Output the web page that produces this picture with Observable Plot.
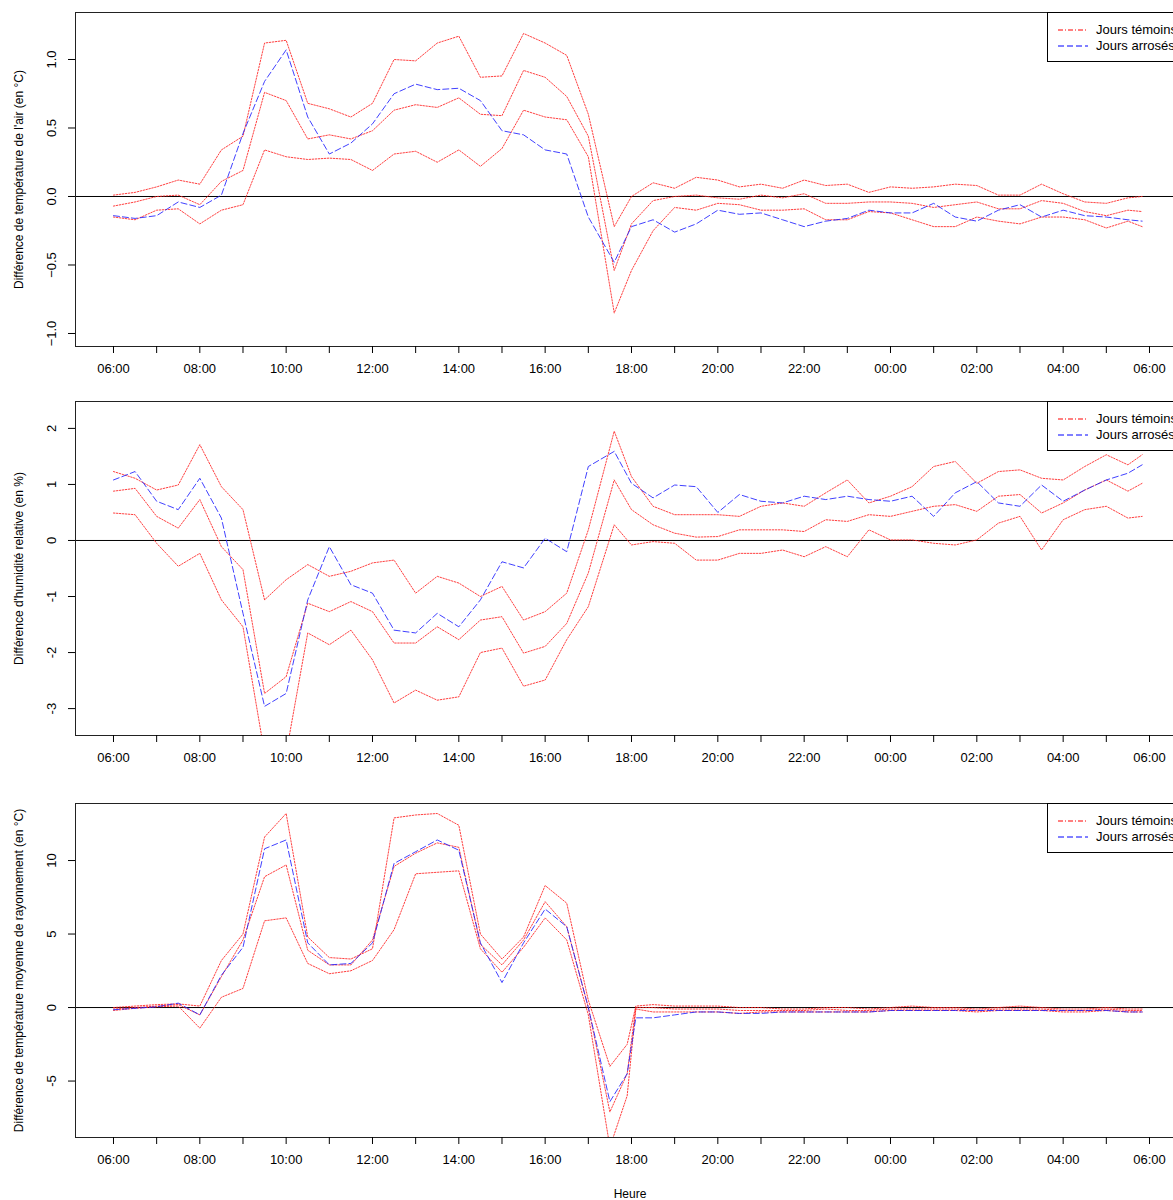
<!DOCTYPE html>
<html><head><meta charset="utf-8">
<script src="https://cdn.jsdelivr.net/npm/d3@7"></script>
<script src="https://cdn.jsdelivr.net/npm/@observablehq/plot@0.6"></script>
<style>
body{margin:0;background:#fff;font-family:"Liberation Sans",Arial,sans-serif;}
#wrap{position:relative;width:1173px;height:1200px;overflow:hidden;}
#wrap svg{display:block;max-width:none !important;}
.leg{position:absolute;left:1047px;width:200px;height:48px;border:1px solid #000;background:#fff;font-size:13px;}
.leg div{position:absolute;left:48px;}
.heure{position:absolute;top:1187px;left:600px;width:60px;text-align:center;font-size:12px;}
</style></head>
<body><div id="wrap"></div>
<script>
// time positions (hours since 00:00 of day 1)
const T12 = [...d3.range(6, 17.01, 0.5), 17.6, ...d3.range(18, 29.51, 0.5), 29.83];
const T3 = [...d3.range(6, 17.51, 0.5), 17.9, 18.1, ...d3.range(18.5, 29.51, 0.5), 29.83];

// Panel 1 : air temperature difference
const U1 = [0.01,0.03,0.07,0.12,0.09,0.34,0.44,1.12,1.14,0.68,0.64,0.58,0.68,1.0,0.99,1.12,1.17,0.87,0.88,1.19,1.12,1.03,0.6, -0.22,
 0.0,0.1,0.06,0.14,0.12,0.07,0.09,0.06,0.12,0.08,0.09,0.03,0.07,0.06,0.07,0.09,0.08,0.01,0.01,0.09,0.02,-0.04,-0.05,-0.01, 0.0];
const M1 = [-0.07,-0.04,0.0,0.01,-0.06,0.11,0.19,0.76,0.7,0.42,0.45,0.42,0.48,0.63,0.67,0.65,0.72,0.6,0.59,0.92,0.87,0.73,0.44, -0.54,
 -0.2,-0.03,0.0,0.01,-0.01,-0.02,0.01,-0.01,0.02,-0.05,-0.05,-0.04,-0.04,-0.05,-0.08,-0.06,-0.04,-0.09,-0.09,-0.03,-0.05,-0.11,-0.14,-0.1, -0.11];
const L1 = [-0.15,-0.17,-0.1,-0.09,-0.2,-0.1,-0.06,0.34,0.29,0.27,0.28,0.27,0.19,0.31,0.33,0.25,0.34,0.22,0.35,0.63,0.58,0.56,0.29, -0.85,
 -0.54,-0.25,-0.08,-0.1,-0.05,-0.06,-0.1,-0.1,-0.09,-0.17,-0.17,-0.11,-0.12,-0.17,-0.22,-0.22,-0.15,-0.18,-0.2,-0.15,-0.15,-0.17,-0.23,-0.18, -0.22];
const B1 = [-0.14,-0.16,-0.14,-0.04,-0.08,0.01,0.46,0.84,1.07,0.58,0.31,0.39,0.53,0.75,0.82,0.78,0.79,0.7,0.48,0.45,0.34,0.31,-0.15, -0.48,
 -0.22,-0.17,-0.26,-0.2,-0.1,-0.13,-0.12,-0.17,-0.22,-0.18,-0.16,-0.1,-0.12,-0.12,-0.05,-0.15,-0.18,-0.1,-0.06,-0.15,-0.1,-0.14,-0.15,-0.17, -0.18];

// Panel 2 : relative humidity difference
const U2 = [1.23,1.11,0.9,0.99,1.71,0.96,0.55,-1.06,-0.7,-0.43,-0.64,-0.55,-0.4,-0.35,-0.94,-0.64,-0.76,-1.0,-0.82,-1.42,-1.27,-0.94,0.19, 1.95,
 1.14,0.61,0.46,0.46,0.46,0.43,0.61,0.67,0.61,0.85,1.08,0.67,0.79,0.96,1.32,1.41,1.02,1.23,1.26,1.11,1.08,1.32,1.53,1.35, 1.53];
const M2 = [0.88,0.93,0.43,0.22,0.73,-0.11,-0.52,-2.73,-2.43,-1.12,-1.27,-1.09,-1.27,-1.83,-1.83,-1.54,-1.77,-1.42,-1.36,-2.01,-1.89,-1.48,-0.58, 1.08,
 0.55,0.28,0.13,0.06,0.07,0.19,0.19,0.19,0.16,0.37,0.34,0.46,0.43,0.52,0.61,0.64,0.52,0.79,0.82,0.49,0.67,0.9,1.08,0.88, 1.02];
const L2 = [0.49,0.46,-0.05,-0.46,-0.23,-1.06,-1.54,-3.8,-3.8,-1.65,-1.86,-1.6,-2.13,-2.9,-2.67,-2.85,-2.79,-2.0,-1.92,-2.6,-2.49,-1.77,-1.18, 0.28,
 -0.08,-0.02,-0.05,-0.35,-0.35,-0.23,-0.23,-0.17,-0.29,-0.11,-0.29,0.19,0.01,0.01,-0.05,-0.08,0.01,0.31,0.43,-0.17,0.37,0.55,0.61,0.4, 0.43];
const B2 = [1.08,1.23,0.7,0.55,1.11,0.4,-1.3,-2.96,-2.73,-1.06,-0.11,-0.79,-0.94,-1.6,-1.65,-1.3,-1.54,-1.06,-0.38,-0.49,0.04,-0.2,1.32, 1.59,
 1.02,0.76,0.99,0.96,0.5,0.82,0.7,0.67,0.79,0.73,0.79,0.73,0.7,0.79,0.43,0.85,1.05,0.67,0.61,0.99,0.7,0.9,1.08,1.2, 1.35];

// Panel 3 : mean radiant temperature difference
const U3 = [0,0.1,0.2,0.25,0.1,3.2,5.0,11.6,13.2,4.8,3.4,3.3,4.0,12.9,13.1,13.2,12.4,5.0,3.3,4.8,8.3,7.1,0.5,-4.0, -2.5,0.1,
 0.2,0.1,0.1,0.1,0.0,0.0,-0.1,-0.1,0.0,0.0,-0.1,0.0,0.1,0.0,0.0,-0.1,0.0,0.1,0.0,-0.1,-0.1,0.0,-0.1,-0.1];
const M3 = [-0.1,0,0.1,0.2,-0.5,2.1,4.6,8.9,9.7,3.9,2.9,2.9,4.6,9.6,10.5,11.2,10.9,4.3,2.9,4.6,7.2,5.5,0.0,-7.1, -4.5,0.0,
 0.0,-0.1,-0.1,-0.1,-0.2,-0.2,-0.2,-0.2,-0.1,-0.2,-0.2,-0.1,-0.1,-0.1,-0.1,-0.2,-0.1,-0.1,-0.1,-0.2,-0.2,-0.1,-0.2,-0.2];
const L3 = [-0.2,-0.05,0.05,0.1,-1.4,0.7,1.3,5.9,6.1,3.0,2.3,2.5,3.2,5.3,9.1,9.2,9.3,4.0,2.4,4.1,6.1,4.6,-0.5,-9.5, -6.0,-0.1,
 -0.3,-0.3,-0.3,-0.3,-0.4,-0.3,-0.3,-0.3,-0.3,-0.3,-0.3,-0.2,-0.2,-0.2,-0.2,-0.3,-0.2,-0.2,-0.2,-0.3,-0.3,-0.2,-0.3,-0.3];
const B3 = [-0.15,-0.05,0.05,0.3,-0.5,2.2,4.1,10.8,11.4,4.4,2.9,3.0,4.4,9.8,10.6,11.4,10.7,4.4,1.7,4.4,6.7,5.5,0.0,-6.4, -4.5,-0.7,
 -0.7,-0.5,-0.3,-0.3,-0.4,-0.4,-0.3,-0.3,-0.3,-0.3,-0.3,-0.2,-0.2,-0.2,-0.2,-0.2,-0.2,-0.2,-0.2,-0.2,-0.2,-0.2,-0.3,-0.3];

const hourTicks = d3.range(6, 31, 1);
const legendLabels = ["Jours témoins", "Jours arrosés"];

const panels = [
  {T: T12, reds: [U1, M1, L1], blue: B1, ydom: [-1.095, 1.343], yt: [-1, -0.5, 0, 0.5, 1], fmt: d3.format(".1f"),
   label: "Différence de température de l'air (en °C)", h: 390, mt: 12, mb: 44, top: 12},
  {T: T12, reds: [U2, M2, L2], blue: B2, ydom: [-3.48, 2.48], yt: [-3, -2, -1, 0, 1, 2], fmt: d => String(d),
   label: "Différence d'humidité relative (en %)", h: 400, mt: 11, mb: 55, top: 401},
  {T: T3, reds: [U3, M3, L3], blue: B3, ydom: [-8.84, 13.88], yt: [-5, 0, 5, 10], fmt: d => String(d),
   label: "Différence de température moyenne de rayonnement (en °C)", h: 410, mt: 13, mb: 63, top: 803}
];

const wrap = document.getElementById("wrap");
panels.forEach(p => {
  const mk = arr => arr.map((v, i) => ({t: p.T[i], v}));
  const marks = [
    Plot.ruleY([0], {stroke: "black", strokeWidth: 1}),
    ...p.reds.map(r => Plot.line(mk(r), {x: "t", y: "v", stroke: "#ff2020", strokeWidth: 1, strokeDasharray: "1.5,1.5", strokeOpacity: 0.85, clip: true})),
    Plot.line(mk(p.blue), {x: "t", y: "v", stroke: "#2020ff", strokeWidth: 1, strokeDasharray: "6,3", strokeOpacity: 0.85, clip: true}),
    Plot.frame({stroke: "#222"}),
    Plot.axisX({ticks: hourTicks, tickSize: 7, tickPadding: 10, fontSize: 13, label: null,
      tickFormat: d => d % 2 ? "" : String(d % 24).padStart(2, "0") + ":00"}),
    Plot.axisY({ticks: p.yt, tickSize: 7, tickFormat: () => "", label: null}),
    Plot.text(p.yt, {y: d => d, frameAnchor: "left", dx: -24, rotate: -90, text: p.fmt, fontSize: 13, textAnchor: "middle"}),
    Plot.text([p.label], {y: [(p.ydom[0] + p.ydom[1]) / 2], frameAnchor: "left", dx: -56, rotate: -90, text: d => d, fontSize: 12, textAnchor: "middle"})
  ];
  const svg = Plot.plot({
    width: 1190, height: p.h, marginLeft: 75, marginRight: 0, marginTop: p.mt, marginBottom: p.mb,
    style: {fontFamily: "Liberation Sans, Arial, sans-serif", color: "#000", background: "#fff"},
    x: {domain: [5.12, 30.95]},
    y: {domain: p.ydom},
    marks
  });
  wrap.appendChild(svg);
  const leg = document.createElement("div");
  leg.className = "leg";
  leg.style.top = p.top + "px";
  leg.innerHTML = `<svg width="48" height="48" style="position:absolute;left:0;top:0">
    <line x1="10" x2="40" y1="17" y2="17" stroke="red" stroke-dasharray="5,2,1,2"/>
    <line x1="10" x2="40" y1="33" y2="33" stroke="blue" stroke-dasharray="6,3"/></svg>
    <div style="top:9px">${legendLabels[0]}</div><div style="top:25px">${legendLabels[1]}</div>`;
  wrap.appendChild(leg);
});
const h = document.createElement("div");
h.className = "heure"; h.textContent = "Heure";
wrap.appendChild(h);
</script></body></html>
